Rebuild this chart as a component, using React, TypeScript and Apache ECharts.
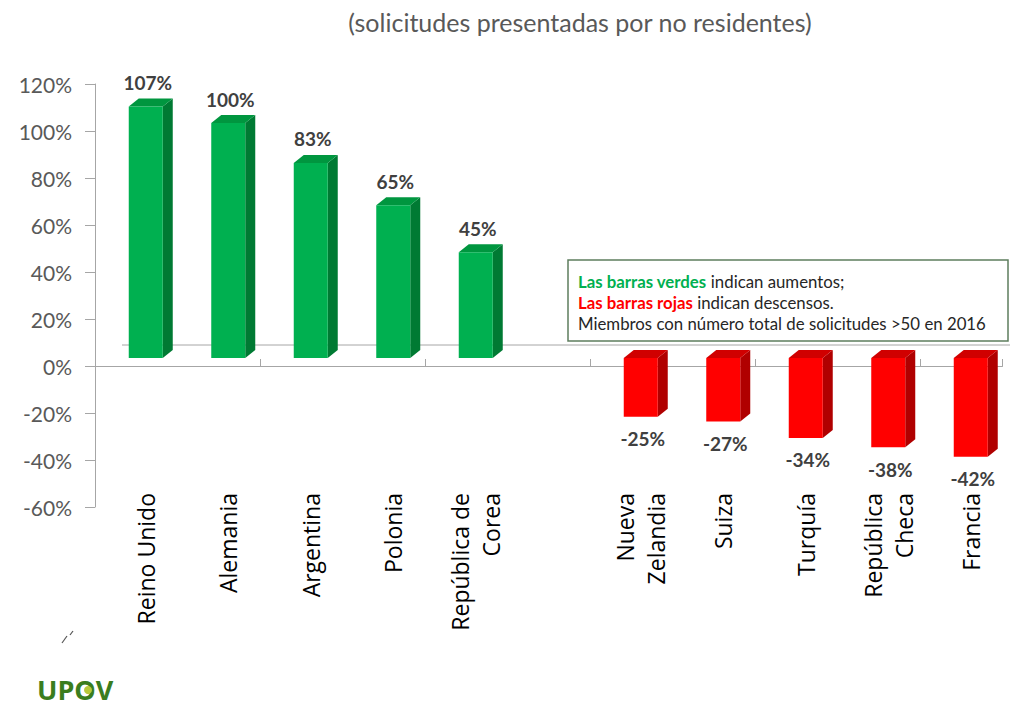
import React, { useEffect, useRef } from 'react';
import * as echarts from 'echarts';

const categories = [
  'Reino Unido',
  'Alemania',
  'Argentina',
  'Polonia',
  'República de\nCorea',
  '',
  'Nueva\nZelandia',
  'Suiza',
  'Turquía',
  'República\nCheca',
  'Francia',
];
const values: (number | null)[] = [107, 100, 83, 65, 45, null, -25, -27, -34, -38, -42];

const yMin = -60;
const yMax = 120;
const yStep = 20;

const titleText = '(solicitudes presentadas por no residentes)';
const noteLines = [
  '{g|Las barras verdes} {n|indican aumentos;}',
  '{r|Las barras rojas} {n|indican descensos.}',
  '{n|Miembros con número total de solicitudes >50 en 2016}',
];

const GREEN = { front: '#00B050', side: '#007A33', top: '#00963F' };
const RED = { front: '#FF0000', side: '#B00000', top: '#D00000' };

export default function App() {
  const ref = useRef<HTMLDivElement>(null);
  useEffect(() => {
    if (!ref.current) return;
    const chart = echarts.init(ref.current, null, { renderer: 'svg' });
    const data = values
      .map((v, i) => (v == null ? null : [i, v]))
      .filter((d) => d != null);

    const renderItem = (params: any, api: any) => {
      const i = api.value(0);
      const v = api.value(1);
      const base = api.coord([i, 0]);
      const tip = api.coord([i, v]);
      const w = 34;
      const dx = 10;
      const dy = 8;
      const cx = base[0];
      const x0 = cx - w / 2;
      const x1 = cx + w / 2;
      const yTop = Math.min(base[1], tip[1]);
      const yBot = Math.max(base[1], tip[1]);
      const c = v >= 0 ? GREEN : RED;
      const labelY = v >= 0 ? yTop - dy - 16 : yBot + 22;
      return {
        type: 'group',
        children: [
          {
            type: 'polygon',
            shape: { points: [[x1, yTop], [x1 + dx, yTop - dy], [x1 + dx, yBot - dy], [x1, yBot]] },
            style: { fill: c.side },
          },
          {
            type: 'polygon',
            shape: { points: [[x0, yTop], [x0 + dx, yTop - dy], [x1 + dx, yTop - dy], [x1, yTop]] },
            style: { fill: c.top },
          },
          {
            type: 'rect',
            shape: { x: x0, y: yTop, width: w, height: yBot - yTop },
            style: { fill: c.front },
          },
          {
            type: 'text',
            style: {
              text: v + '%',
              x: cx + 2,
              y: labelY,
              textAlign: 'center',
              textVerticalAlign: 'middle',
              align: 'center',
              verticalAlign: 'middle',
              font: 'bold 19px Lato',
              fill: '#404040',
            },
          },
        ],
      };
    };

    chart.setOption({
      animation: false,
      backgroundColor: '#ffffff',
      grid: [
        { left: 95, top: 84, width: 907.5, height: 423 },
        { left: 104.5, top: 76, width: 907.5, height: 423 },
      ],
      xAxis: [
        {
          gridIndex: 0,
          type: 'category',
          data: categories,
          axisLine: { onZero: true, lineStyle: { color: '#A6A6A6', width: 1 } },
          axisTick: { show: true, inside: true, length: 7, lineStyle: { color: '#A6A6A6' } },
          axisLabel: { show: false },
          splitLine: { show: false },
        },
        {
          gridIndex: 1,
          type: 'category',
          data: categories,
          position: 'bottom',
          axisLine: { show: false, onZero: false },
          axisTick: { show: false },
          axisLabel: {
            interval: 0,
            rotate: 90,
            margin: -6,
            fontFamily: 'Open Sans',
            fontSize: 23,
            lineHeight: 31,
            color: '#000000',
          },
          splitLine: { show: false },
        },
      ],
      yAxis: [
        {
          gridIndex: 0,
          type: 'value',
          min: yMin,
          max: yMax,
          interval: yStep,
          axisLine: { show: true, lineStyle: { color: '#A6A6A6' } },
          axisTick: { show: true, length: 10, lineStyle: { color: '#A6A6A6' } },
          axisLabel: {
            formatter: '{value}%',
            fontFamily: 'Lato',
            fontSize: 21,
            color: '#595959',
            margin: 23,
          },
          splitLine: { show: false },
        },
        {
          gridIndex: 1,
          type: 'value',
          min: yMin,
          max: yMax,
          interval: yStep,
          show: false,
          splitLine: { show: false },
        },
      ],
      series: [
        {
          type: 'custom',
          xAxisIndex: 1,
          yAxisIndex: 1,
          renderItem,
          data,
          z: 5,
        },
      ],
      graphic: [
        {
          type: 'line',
          z: 1,
          shape: { x1: 122, y1: 345, x2: 1010, y2: 345 },
          style: { stroke: '#A6A6A6', lineWidth: 1 },
        },
        {
          type: 'text',
          z: 10,
          x: 580,
          y: 22,
          style: {
            text: titleText,
            textAlign: 'center',
            textVerticalAlign: 'middle',
            font: '25px Lato',
            fill: '#595959',
          },
        },
        {
          type: 'rect',
          z: 10,
          shape: { x: 568, y: 260, width: 440, height: 81 },
          style: { fill: '#ffffff', stroke: '#5E7E5E', lineWidth: 1.5 },
        },
        {
          type: 'text',
          z: 11,
          x: 578,
          y: 271,
          style: {
            text: noteLines.join('\n'),
            font: '16.8px Lato',
            fill: '#262626',
            lineHeight: 21,
            rich: {
              g: { fill: '#00B050', color: '#00B050', fontWeight: 'bold', fontSize: 16.8, fontFamily: 'Lato', lineHeight: 21 },
              r: { fill: '#FF0000', color: '#FF0000', fontWeight: 'bold', fontSize: 16.8, fontFamily: 'Lato', lineHeight: 21 },
              n: { fill: '#262626', color: '#262626', fontSize: 16.8, fontFamily: 'Lato', lineHeight: 21 },
            },
          },
        },
        {
          type: 'line',
          z: 10,
          shape: { x1: 62, y1: 643, x2: 67, y2: 636 },
          style: { stroke: '#555555', lineWidth: 1.2 },
        },
        {
          type: 'line',
          z: 10,
          shape: { x1: 70, y1: 635, x2: 73, y2: 631 },
          style: { stroke: '#555555', lineWidth: 1.2 },
        },
        {
          type: 'text',
          z: 10,
          x: 37,
          y: 689,
          style: {
            text: 'UPOV',
            font: 'bold 27px "Open Sans"',
            fill: '#3A7D1E',
            textAlign: 'left',
            textVerticalAlign: 'middle',
          },
        },
        {
          type: 'circle',
          z: 11,
          shape: { cx: 88, cy: 690, r: 4 },
          style: { fill: '#B8C93A' },
        },
      ],
    });
    return () => chart.dispose();
  }, []);
  return (
    <div
      ref={ref}
      style={{ position: 'fixed', left: 0, top: 0, width: 1012, height: 706, background: '#ffffff' }}
    />
  );
}
